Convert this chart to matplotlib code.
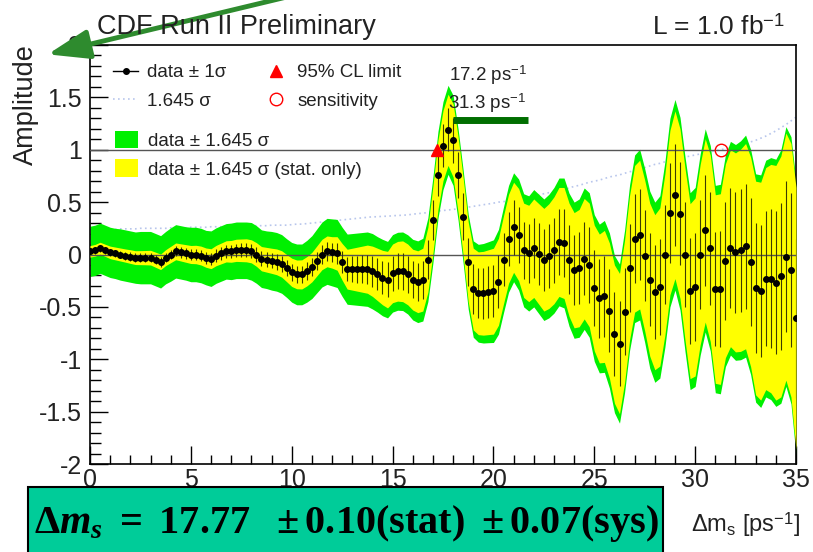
import numpy as np
import matplotlib
matplotlib.use('Agg')
import matplotlib.pyplot as plt
import matplotlib.ticker as ticker
from matplotlib.lines import Line2D
from matplotlib.patches import Rectangle

plt.rcParams['font.family'] = ['Liberation Sans', 'DejaVu Sans']
plt.rcParams['mathtext.fontset'] = 'custom'
plt.rcParams['mathtext.rm'] = 'Liberation Sans'
plt.rcParams['mathtext.bf'] = 'Liberation Serif:bold'
plt.rcParams['mathtext.it'] = 'Liberation Serif:italic:bold'
plt.rcParams['axes.unicode_minus'] = False

# amplitude scan points (ps^-1), 0.25 steps
dms = np.arange(0, 35.01, 0.25)

amp = np.array([
    0.03, 0.04, 0.06, 0.04, 0.02, 0.01, 0.0, -0.01, -0.02, -0.03,
    -0.03, -0.03, -0.03, -0.05, -0.07, -0.03, 0.0, 0.03, 0.02, 0.01,
    0.0, 0.0, -0.01, -0.03, -0.04, -0.01, 0.01, 0.03, 0.03, 0.04,
    0.04, 0.04, 0.03, 0.0, -0.04, -0.05, -0.06, -0.07, -0.09, -0.13,
    -0.17, -0.19, -0.19, -0.16, -0.12, -0.06, 0.0, 0.03, 0.02, 0.01,
    -0.07, -0.14, -0.14, -0.14, -0.14, -0.14, -0.16, -0.19, -0.22, -0.24,
    -0.18, -0.16, -0.16, -0.19, -0.24, -0.26, -0.24, -0.05, 0.33, 0.76,
    1.04, 1.19, 1.09, 0.76, 0.36, -0.07, -0.33, -0.37, -0.37, -0.36,
    -0.35, -0.26, -0.05, 0.15, 0.26, 0.19, 0.04, 0.01, 0.06, 0.005,
    -0.05, -0.015, 0.04, 0.12, 0.11, -0.05, -0.15, -0.13, -0.04, -0.10,
    -0.32, -0.42, -0.40, -0.535, -0.76, -0.85, -0.545, -0.125, 0.15, 0.19,
    -0.01, -0.24, -0.36, -0.31, 0.0, 0.40, 0.57, 0.39, 0.0, -0.35,
    -0.31, 0.0, 0.23, 0.06, -0.33, -0.33, -0.06, 0.06, 0.02, 0.04,
    0.08, -0.07, -0.32, -0.35, -0.23, -0.23, -0.27, -0.21, -0.02, -0.15,
    -0.61])

# 1.645 sigma, total (stat + syst)
cl_tot = np.array([
    0.24, 0.24, 0.24, 0.24, 0.24, 0.24, 0.245, 0.245, 0.245, 0.245,
    0.25, 0.25, 0.25, 0.25, 0.25, 0.25, 0.255, 0.255, 0.255, 0.255,
    0.26, 0.26, 0.26, 0.26, 0.265, 0.265, 0.265, 0.265, 0.27, 0.27,
    0.27, 0.27, 0.275, 0.275, 0.275, 0.275, 0.28, 0.28, 0.28, 0.28,
    0.285, 0.29, 0.29, 0.295, 0.3, 0.305, 0.31, 0.315, 0.32, 0.325,
    0.33, 0.335, 0.34, 0.345, 0.35, 0.355, 0.36, 0.36, 0.365, 0.365,
    0.37, 0.372, 0.375, 0.378, 0.385, 0.39, 0.395, 0.40, 0.41, 0.415,
    0.42, 0.425, 0.43, 0.437, 0.445, 0.452, 0.46, 0.467, 0.475, 0.482,
    0.49, 0.50, 0.505, 0.51, 0.52, 0.53, 0.54, 0.55, 0.56, 0.57,
    0.58, 0.59, 0.60, 0.61, 0.62, 0.635, 0.65, 0.66, 0.675, 0.69,
    0.70, 0.71, 0.725, 0.74, 0.75, 0.76, 0.775, 0.79, 0.80, 0.815,
    0.83, 0.845, 0.86, 0.87, 0.885, 0.90, 0.91, 0.92, 0.93, 0.94,
    0.95, 0.96, 0.97, 0.98, 0.99, 1.0, 1.01, 1.02, 1.03, 1.045,
    1.06, 1.075, 1.09, 1.11, 1.13, 1.155, 1.18, 1.21, 1.24, 1.275,
    1.31])

# 1.645 sigma, stat only
cl_stat = np.array([
    0.055, 0.056, 0.057, 0.058, 0.06, 0.061, 0.062, 0.063, 0.065, 0.066,
    0.067, 0.068, 0.07, 0.072, 0.074, 0.076, 0.078, 0.08, 0.082, 0.084,
    0.086, 0.088, 0.09, 0.092, 0.095, 0.097, 0.099, 0.101, 0.104, 0.106,
    0.108, 0.11, 0.11, 0.113, 0.116, 0.118, 0.12, 0.123, 0.126, 0.13,
    0.135, 0.137, 0.139, 0.14, 0.141, 0.143, 0.145, 0.147, 0.15, 0.16,
    0.175, 0.19, 0.2, 0.21, 0.22, 0.23, 0.24, 0.25, 0.26, 0.27,
    0.28, 0.285, 0.29, 0.29, 0.29, 0.295, 0.3, 0.31, 0.32, 0.33,
    0.335, 0.34, 0.35, 0.36, 0.37, 0.38, 0.39, 0.395, 0.40, 0.405,
    0.41, 0.415, 0.42, 0.425, 0.43, 0.44, 0.45, 0.46, 0.47, 0.48,
    0.49, 0.50, 0.51, 0.52, 0.53, 0.54, 0.55, 0.56, 0.575, 0.59,
    0.60, 0.615, 0.63, 0.645, 0.66, 0.67, 0.68, 0.69, 0.70, 0.71,
    0.72, 0.73, 0.74, 0.755, 0.77, 0.785, 0.80, 0.81, 0.82, 0.835,
    0.85, 0.86, 0.875, 0.89, 0.90, 0.91, 0.925, 0.94, 0.95, 0.965,
    0.98, 1.0, 1.02, 1.04, 1.06, 1.09, 1.12, 1.15, 1.18, 1.21,
    1.25])

cl_limit = 17.2      # 95% CL limit
sensitivity = 31.3
bar_x = [18.0, 21.7]  # dark green bar under the legend numbers
bar_y = 1.28

txtc = '#222222'

fig = plt.figure(figsize=(8.13, 5.52), dpi=100)
ax = fig.add_axes([90/813, 88/552, 706/813, 419/552])

dotted, = ax.plot(dms, cl_tot, ls=(0, (1, 2)), color='#b8c6ec', lw=1.2, zorder=1)
green = ax.fill_between(dms, amp - cl_tot, amp + cl_tot, color='#00f000', lw=0, zorder=2)
yellow = ax.fill_between(dms, amp - cl_stat, amp + cl_stat, color='#ffff00', lw=0, zorder=3)
ax.axhline(1, color='#555555', lw=1.0, zorder=4)
ax.axhline(0, color='#555555', lw=1.0, zorder=4)
ax.errorbar(dms, amp, yerr=cl_stat / 1.645, fmt='none', ecolor='#3c3c00',
            elinewidth=0.8, capsize=0, zorder=5)
ax.plot(dms, amp, 'o', color='k', ms=4, zorder=5)
tri, = ax.plot(cl_limit, 1.0, '^', color='red', ms=8, zorder=6)
circ, = ax.plot(sensitivity, 1.0, 'o', mfc='none', mec='red', ms=9, mew=1.0, zorder=6)
ax.plot(bar_x, [bar_y, bar_y], color='#006e00', lw=5, solid_capstyle='butt', zorder=6)

ax.set_xlim(0, 35)
ax.set_ylim(-2, 2)
ax.xaxis.set_major_locator(ticker.MultipleLocator(5))
ax.xaxis.set_minor_locator(ticker.MultipleLocator(1))
ax.yaxis.set_major_locator(ticker.MultipleLocator(0.5))
ax.yaxis.set_minor_locator(ticker.MultipleLocator(0.1))
ax.yaxis.set_major_formatter(ticker.FormatStrFormatter('%g'))
ax.tick_params(which='both', direction='in', colors='k', labelcolor=txtc, labelsize=18)
ax.tick_params(axis='y', which='major', length=13, width=1, pad=6)
ax.tick_params(axis='y', which='minor', length=8, width=1)
ax.tick_params(axis='x', which='major', length=13, width=1, pad=3)
ax.tick_params(axis='x', which='minor', length=6.5, width=1)
for s in ax.spines.values():
    s.set_linewidth(1.2)

# legends
h_data = Line2D([], [], color='k', marker='o', ms=4, lw=1)
leg1 = ax.legend([h_data, dotted, tri, circ],
                 ['data ± 1σ', '1.645 σ', '95% CL limit', 'sensitivity'],
                 ncol=2, loc='upper left', bbox_to_anchor=(113/813, 1 - 64/552),
                 bbox_transform=fig.transFigure, frameon=False, fontsize=13.5,
                 handlelength=1.35, handletextpad=0.45, columnspacing=2.0,
                 labelspacing=0.62, borderpad=0, borderaxespad=0, labelcolor=txtc)
ax.add_artist(leg1)
ax.legend([green, yellow], ['data ± 1.645 σ', 'data ± 1.645 σ (stat. only)'],
          loc='upper left', bbox_to_anchor=(115/813, 1 - 131/552),
          bbox_transform=fig.transFigure, frameon=False, fontsize=13.5,
          handlelength=1.2, handleheight=1.05, handletextpad=0.55,
          labelspacing=0.5, borderpad=0, borderaxespad=0, labelcolor=txtc)

ax.text(17.8, 1.71, '17.2 ps$^{-1}$', fontsize=13.5, color=txtc, va='center')
ax.text(17.75, 1.445, '31.3 ps$^{-1}$', fontsize=13.5, color=txtc, va='center')

# titles and labels
fig.text(97/813, 1 - 27/552, 'CDF Run II Preliminary', fontsize=19.5, color=txtc, va='center')
fig.text(785/813, 1 - 27/552, 'L = 1.0 fb$^{-1}$', fontsize=19, color=txtc, va='center', ha='right')
fig.text(26/813, 1 - 44/552, 'Amplitude', fontsize=19.5, color=txtc, rotation=90, ha='center', va='top')
fig.text(800/813, 1 - 525/552, 'Δm$_{\\rm s}$ [ps$^{-1}$]', fontsize=17, color=txtc, ha='right', va='center')

# result box
fig.patches.append(Rectangle((28/813, -0.05), (663 - 28)/813, 0.05 + (552 - 487)/552,
                             transform=fig.transFigure, fc='#00cc99', ec='k', lw=1.5))
fig.text(34/813, 1 - 523/552,
         r'$\mathbf{\Delta}m_{s}\ \mathbf{=\ 17.77\ \ \pm 0.10(stat)\ \pm 0.07(sys)}$',
         fontsize=29, color='k', va='center', ha='left')

# green arrow pointing at the amplitude axis
ax.annotate('', xy=(45, 552 - 55), xytext=(295, 552 + 5), xycoords='figure pixels',
            textcoords='figure pixels', annotation_clip=False,
            arrowprops=dict(arrowstyle='-|>,head_length=1.7,head_width=0.6',
                            mutation_scale=15, lw=3.5, color='#2e8b2e'))

plt.savefig('out.png', dpi=100)
